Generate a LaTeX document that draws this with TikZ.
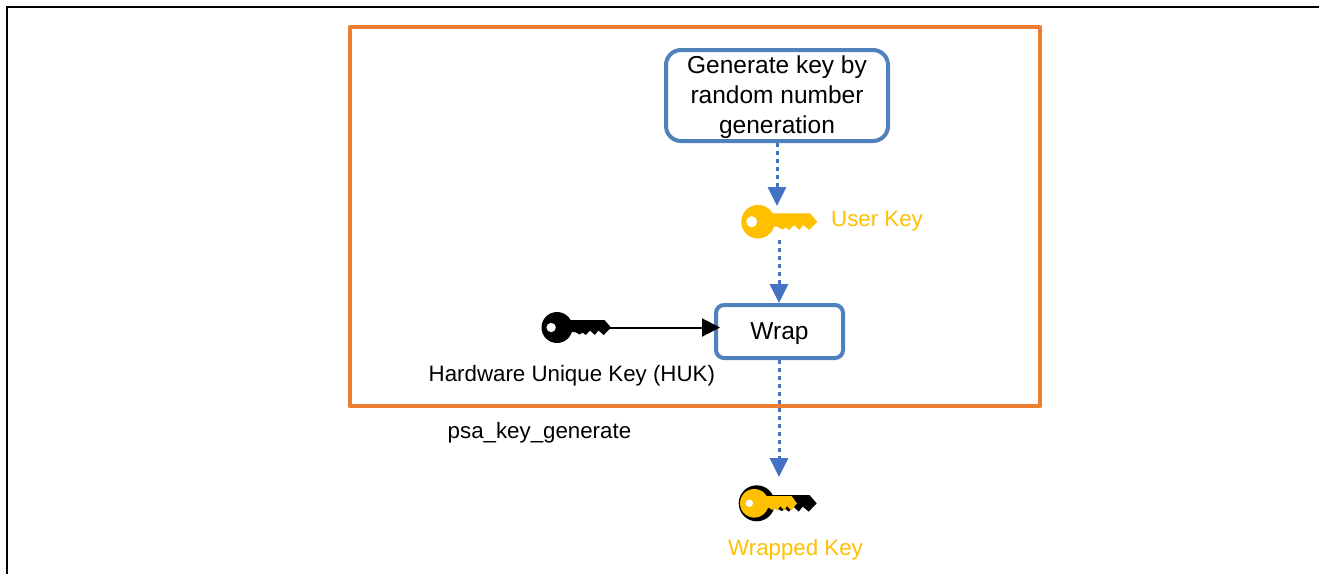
\documentclass[tikz,border=0pt]{standalone}
\usepackage{fontspec}
\setmainfont{Liberation Sans}
\usetikzlibrary{arrows.meta}
\definecolor{keyyellow}{HTML}{FFC000}
\definecolor{frameorange}{HTML}{ED7D31}
\definecolor{boxblue}{HTML}{4F81BD}
\definecolor{flowblue}{HTML}{4472C4}
\tikzset{
  x=1pt,y=-1pt,
  procbox/.style={draw=boxblue,line width=4pt,fill=white,align=center,inner sep=0pt,text=black,font=\fontsize{24.5}{30}\selectfont},
  lbl/.style={inner sep=0pt,font=\fontsize{22.3}{30}\selectfont},
  keylbl/.style={lbl,text=keyyellow},
  keyanchor/.style={inner sep=0pt,minimum width=#1,minimum height=36pt},
  flow/.style={draw=flowblue,line width=3pt,dash pattern=on 4pt off 4pt,-{Triangle[length=19pt,width=18pt,fill=flowblue]}},
  plain/.style={draw=black,line width=2pt,-{Triangle[length=18pt,width=18pt,fill=black]}},
  pics/keyshape/.style={code={
    \fill[#1] (10,-8.3) -- (52.7,-8.3) -- (60,0) -- (52,8.3) -- (46,3.3) -- (42,8.3) -- (36.7,3.3) -- (32,8.3) -- (28.7,5.7) -- (25,7.7) -- (20,5) -- (10,5) -- cycle;
  }}
}
\begin{document}
\begin{tikzpicture}
\useasboundingbox (0,0) rectangle (1319,574);
\fill[white] (0,0) rectangle (1319,574);
\draw[black,line width=2pt] (6.5,574) -- (6.5,6.5) -- (1319,6.5);
\draw[frameorange,line width=4pt,line join=round] (350,27) rectangle (1040,406);

% keys
\node[keyanchor=60pt] (userkey) at (779,222) {};
\fill[keyyellow] (758,221.7) circle[radius=16.8];
\pic[transform shape] at (757.3,221.7) {keyshape=keyyellow};
\fill[white] (751.7,221.7) circle[radius=5.5];

\node[keyanchor=68pt] (huk) at (576,327.5) {};
\fill[black] (557,327.5) circle[radius=15.5];
\begin{scope}[shift={(557,327.5)},scale=0.9]
\pic[transform shape] at (0,0) {keyshape=black};
\fill[white] (-6.5,0) circle[radius=5.2];
\end{scope}

\node[keyanchor=60pt] (wrappedkey) at (779,503.5) {};
\fill[black] (756.7,503.3) circle[radius=18];
\pic[transform shape] at (756.7,503.3) {keyshape=black};
\fill[keyyellow] (754.3,503.3) circle[radius=14.3];
\begin{scope}[shift={(754.3,503.3)},xscale=0.71,yscale=0.86]
\pic[transform shape] at (0,0) {keyshape=keyyellow};
\end{scope}
\fill[white] (749.3,503.3) circle[radius=3.7];

% boxes
\node[procbox,rounded corners=15pt,minimum width=222pt,minimum height=91pt] (gen) at (777,95.5) {\rule{0pt}{21pt}Generate key by\\random number\\generation};
\node[procbox,rounded corners=8pt,minimum width=127pt,minimum height=53pt] (wrap) at (779.5,331.5) {\rule{0pt}{22pt}Wrap};

% labels
\node[keylbl,anchor=west] (ukl) at (831,221) {User Key};
\node[lbl,anchor=west] (hukl) at (428.5,376) {Hardware Unique Key (HUK)};
\node[lbl,anchor=west] (psa) at (447.5,433) {psa\_key\_generate};
\node[keylbl,anchor=west] (wkl) at (728,550) {Wrapped Key};

% connectors
\draw[flow] (gen.south -| 777,0) -- (777,206);
\draw[flow] (779,240) -- (wrap.north -| 779,0);
\draw[plain] (huk.east) -- ([xshift=6pt]wrap.west |- huk.east);
\draw[flow] (wrap.south -| 779,0) -- (779,477);
\end{tikzpicture}
\end{document}
